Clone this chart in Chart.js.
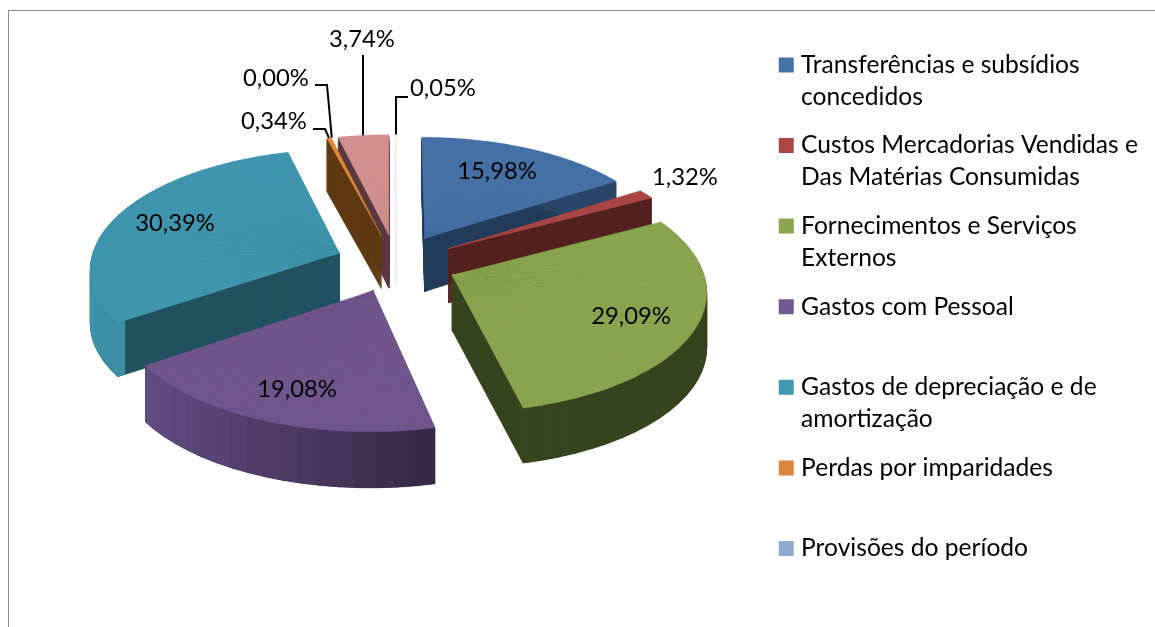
<!DOCTYPE html>
<html lang="pt">
<head>
<meta charset="utf-8">
<style>
html,body{margin:0;padding:0;background:#fff;overflow:hidden}
#wrap{position:relative;width:1155px;height:627px}
#frame{position:absolute;left:8px;top:10px;right:0;bottom:0;border-left:1px solid #8c8c8c;border-top:1px solid #8c8c8c;pointer-events:none}
</style>
<script src="https://cdn.jsdelivr.net/npm/chart.js@4"></script>
</head>
<body>
<div id="wrap"><canvas id="c" width="1155" height="627"></canvas><div id="frame"></div></div>
<script>
// ---------- data ----------
const categories = [
  ['Transferências e subsídios','concedidos'],
  ['Custos Mercadorias Vendidas e','Das Matérias Consumidas'],
  ['Fornecimentos e Serviços','Externos'],
  ['Gastos com Pessoal',' '],
  ['Gastos de depreciação e de','amortização'],
  ['Perdas por imparidades',' '],
  ['Provisões do período'],
  [''],
  ['']
];
const values = [15.98, 1.32, 29.09, 19.08, 30.39, 0.34, 0.00, 3.74, 0.05];
const legendCount = 7;

// ---------- style ----------
const topColors  = ['#4470A5','#A94543','#88A44E','#70558D','#3F95AD','#E0873A','#93A9CF','#D09090','#F3F0DF'];
const legendColors = ['#4572A7','#AA4643','#89A54E','#71588F','#4198AF','#DB843D','#93A9CF'];
const wallColors = ['#233C5B','#55211F','#37451F','#3A2A48','#22525F','#5E3A12','#4A5A78','#5A3A3E','#EEEEEE'];
const rimColors  = [['#2A4668','#2A4668'],['#55211F','#55211F'],['#37451F','#37451F'],['#654C82','#382946'],
                    ['#3F93AA','#2F7488'],['#5E3A12','#5E3A12'],['#4A5A78','#4A5A78'],['#5A3A3E','#5A3A3E'],['#EEEEEE','#EEEEEE']];
const FONT = 'Lato';
const LEGEND_SIZE = 24.6;
const VALUE_SIZE = 23.8;

// ---------- camera of the exploded 3-D pie ----------
const cam = {cx:396, cy:263, A:249, B:118, k:0.115, explode:0.245, depth:54.5};
const SUB_STEP = 4*Math.PI/180;   // each slice is drawn in narrow wedges so that perspective stays true
const OVERLAP_FACE = 0.002;
const OVERLAP_RIM = 0.012;
function proj(u,v){
  const w = 1 - cam.k*v;
  return {x:cam.cx + cam.A*u/w, y:cam.cy + cam.B*v/w};
}

// value labels and their leader lines (text centre, elbow points)
const labelPlaces = [
  {x:497,y:171},{x:685,y:177},{x:631,y:316},{x:297,y:389},{x:175,y:223},
  {x:274,y:121,line:[[313,129],[325,129]]},
  {x:276,y:78, line:[[315,85],[327,85]]},
  {x:362,y:39, line:[[363,55]],vertical:true},
  {x:443,y:88, line:[[408,97],[396,97]],vertical:true}
];

function tipOf(arc){
  const mid=(arc.startAngle+arc.endAngle)/2;
  return {mid,tu:cam.explode*Math.cos(mid),tv:cam.explode*Math.sin(mid)};
}
function wedgeMap(tip,s,e){
  const mid=(s+e)/2,half=Math.max((e-s)/2,0.03);
  const b1=mid-half,b2=mid+half;
  const T=proj(tip.tu,tip.tv);
  const P1=proj(tip.tu+Math.cos(b1),tip.tv+Math.sin(b1));
  const P2=proj(tip.tu+Math.cos(b2),tip.tv+Math.sin(b2));
  const ax=P1.x-T.x,ay=P1.y-T.y,bx=P2.x-T.x,by=P2.y-T.y;
  const c1=Math.cos(b1),s1=Math.sin(b1),c2=Math.cos(b2),s2=Math.sin(b2);
  const det=c1*s2-c2*s1;
  return {T,a:(ax*s2-bx*s1)/det,c:(-ax*c2+bx*c1)/det,b:(ay*s2-by*s1)/det,d:(-ay*c2+by*c1)/det};
}
function subWedges(arc){
  const span=arc.endAngle-arc.startAngle,n=Math.max(1,Math.ceil(span/SUB_STEP)),tip=tipOf(arc),out=[];
  for(let j=0;j<n;j++){
    const s=arc.startAngle+span*j/n,e=arc.startAngle+span*(j+1)/n;
    out.push({s,e,m:wedgeMap(tip,s,e),first:j===0,last:j===n-1});
  }
  return out;
}
function paint(ctx,arc,w,color,dy,inner,edge,overlap){
  const R=arc.outerRadius,s=Object.create(arc);
  s.options={backgroundColor:color,borderWidth:edge||0,borderColor:edge?color:'rgba(0,0,0,0)',borderAlign:'center',borderRadius:0,
             offset:0,spacing:0,circular:true,borderJoinStyle:'round',borderDash:[],borderDashOffset:0};
  s.startAngle=w.first?w.s:w.s-overlap;
  s.endAngle=w.last?w.e:w.e+overlap;
  s.circumference=s.endAngle-s.startAngle;
  if(inner) s.innerRadius=inner;
  ctx.save();
  ctx.translate(w.m.T.x,w.m.T.y+dy);
  ctx.transform(w.m.a/R,w.m.b/R,w.m.c/R,w.m.d/R,0,0);
  ctx.translate(-arc.x,-arc.y);
  s.draw(ctx);
  ctx.restore();
}
function mix(p,q,t){
  const h=c=>[1,3,5].map(k=>parseInt(c.substr(k,2),16));
  const a=h(p),b=h(q);
  return 'rgb('+a.map((x,i)=>Math.round(x+(b[i]-x)*t)).join(',')+')';
}

const pie3d = {
  id:'pie3d',
  beforeDatasetsDraw(chart){
    const ctx=chart.ctx, arcs=chart.getDatasetMeta(0).data;
    const list=arcs.map((arc,i)=>({arc,i,tip:tipOf(arc),subs:subWedges(arc)})).filter(o=>values[o.i]>0);
    list.sort((p,q)=>Math.sin(p.tip.mid)-Math.sin(q.tip.mid));
    list.forEach(({arc,i,tip,subs})=>{
      const D=Math.round(cam.depth/(1-cam.k*tip.tv));
      for(let d=D;d>=1;d--) subs.forEach(w=>paint(ctx,arc,w,wallColors[i],d,0,1,OVERLAP_FACE));
      // the rim shades from left to right across the slice
      const xs=subs.map(w=>proj(tip.tu+Math.cos((w.s+w.e)/2),tip.tv+Math.sin((w.s+w.e)/2)).x);
      const x0=Math.min(...xs),x1=Math.max(...xs);
      const order=subs.map((w,j)=>j).sort((p,q)=>xs[p]-xs[q]);
      order.forEach(j=>{
        const col=mix(rimColors[i][0],rimColors[i][1],x1>x0?(xs[j]-x0)/(x1-x0):0);
        for(let d=D;d>=1;d--) paint(ctx,arc,subs[j],col,d,arc.outerRadius*0.965,0,OVERLAP_RIM);
      });
      subs.forEach(w=>paint(ctx,arc,w,topColors[i],0,0,0.6,OVERLAP_FACE));
    });
    // leader lines and value labels
    ctx.save();
    ctx.strokeStyle='#000';ctx.lineWidth=2;ctx.lineJoin='miter';
    arcs.forEach((arc,i)=>{
      const p=labelPlaces[i];
      if(!p.line) return;
      const t=tipOf(arc);
      const end=proj(t.tu+Math.cos(t.mid),t.tv+Math.sin(t.mid));
      const last=p.line[p.line.length-1];
      ctx.beginPath();
      ctx.moveTo(p.line[0][0],p.line[0][1]);
      p.line.slice(1).forEach(q=>ctx.lineTo(q[0],q[1]));
      ctx.lineTo(p.vertical?last[0]:end.x,end.y);
      ctx.stroke();
    });
    ctx.fillStyle='#000';ctx.font=VALUE_SIZE+'px '+FONT;ctx.textAlign='center';ctx.textBaseline='middle';
    values.forEach((v,i)=>{
      ctx.fillText(v.toFixed(2).replace('.',',')+'%',labelPlaces[i].x,labelPlaces[i].y);
    });
    ctx.restore();
    return false;
  }
};

new Chart(document.getElementById('c'),{
  type:'pie',
  data:{labels:categories,datasets:[{data:values,backgroundColor:topColors,borderWidth:0}]},
  plugins:[pie3d],
  options:{
    responsive:false,animation:false,
    layout:{padding:{right:7,top:36,bottom:0}},
    plugins:{
      tooltip:{enabled:false},
      legend:{
        position:'right',align:'start',
        labels:{
          usePointStyle:true,pointStyle:'rect',boxWidth:5,boxHeight:15,padding:16.6,
          color:'#000',font:{family:FONT,size:LEGEND_SIZE,lineHeight:32/LEGEND_SIZE},
          generateLabels(){
            return categories.slice(0,legendCount).map((t,i)=>({text:t,fillStyle:legendColors[i],strokeStyle:'rgba(0,0,0,0)',lineWidth:0,pointStyle:'rect',hidden:false,index:i,fontColor:'#000'}));
          }
        }
      }
    }
  }
});
</script>
</body>
</html>
